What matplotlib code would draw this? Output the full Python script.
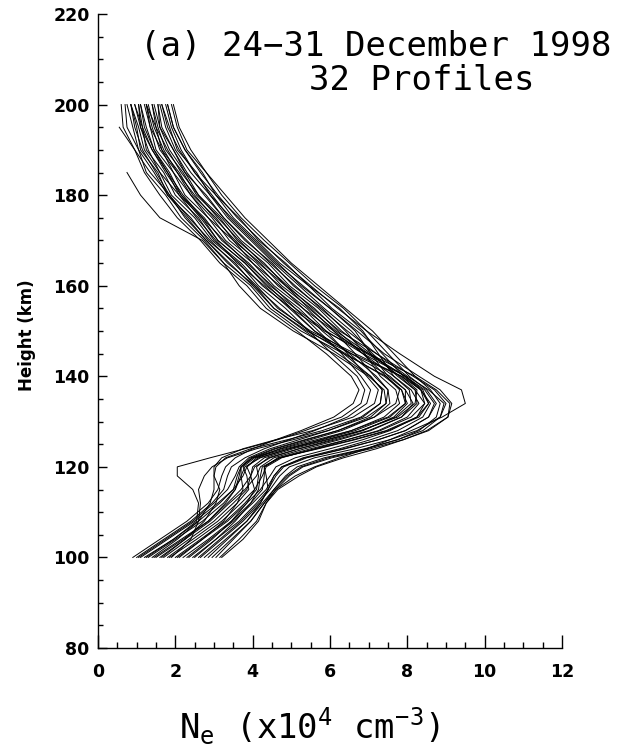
import numpy as np
import matplotlib
matplotlib.use('Agg')
import matplotlib.pyplot as plt
from matplotlib.ticker import MultipleLocator

nan = np.nan

# height grid shared by all profiles (km)
heights_km = [100, 104, 108, 112, 115, 118, 120, 122, 124, 126, 128, 131, 134, 137,
              140, 145, 150, 155, 160, 165, 170, 175, 180, 185, 190, 195, 200]

# electron density, x10^4 cm^-3, one list per profile
ne_01 = [0.90, 1.60, 2.30, 2.85, 3.10, 3.20, 3.30, 3.55, 4.00, 4.60, 5.25, 6.10, 6.60, 6.75,
         6.55, 5.90, 5.15, 4.35, 3.85, 3.15, 2.65, 2.05, 1.60, 1.20, 0.95, 0.65, 0.60]
ne_02 = [1.00, 1.70, 2.40, 2.95, 3.25, 3.35, 3.45, 3.80, 4.30, 4.95, 5.60, 6.45, 6.95, 7.05,
         6.80, 6.30, 5.70, 5.10, 4.35, 3.80, 3.10, 2.70, 2.10, 1.80, 1.40, 1.10, 1.05]
ne_03 = [1.05, 1.75, 2.45, 3.00, 3.35, 3.55, 3.65, 3.90, 4.45, 5.20, 5.95, 6.85, 7.30, 7.35,
         7.05, 6.20, 5.35, 4.55, 4.05, 3.35, 2.80, 2.25, 1.85, 1.35, 0.95, 0.55, nan]
ne_04 = [1.10, 1.80, 2.50, 3.10, 3.50, 3.75, 3.85, 4.10, 4.70, 5.50, 6.30, 7.15, 7.55, 7.50,
         7.15, 6.65, 6.10, 5.50, 4.75, 4.20, 3.50, 3.05, 2.45, 2.10, 1.65, 1.50, 1.25]
ne_05 = [1.20, 1.95, 2.55, 2.60, 2.45, 2.05, 2.05, 2.90, 3.80, 4.65, 5.35, 6.30, 6.80, 6.90,
         6.70, 6.05, 5.45, 4.85, 4.15, 3.65, 2.95, 2.50, 1.90, 1.60, 1.20, 1.05, 0.85]
ne_06 = [1.25, 1.95, 2.60, 3.15, 3.50, 3.60, 3.70, 4.00, 4.60, 5.40, 6.20, 7.05, 7.45, 7.40,
         7.00, 6.10, 5.05, 4.20, 3.65, 3.25, 2.70, 1.60, 1.10, 0.75, nan, nan, nan]
ne_07 = [1.30, 2.00, 2.70, 3.25, 3.55, 3.70, 3.80, 4.20, 4.95, 5.75, 6.55, 7.40, 7.80, 7.70,
         7.30, 6.90, 6.40, 5.80, 5.05, 4.50, 3.80, 3.25, 2.80, 2.25, 1.95, 1.60, 1.55]
ne_08 = [1.40, 2.05, 2.60, 2.90, 3.00, 3.00, 3.05, 3.30, 3.95, 4.90, 5.80, 6.80, 7.30, 7.35,
         7.05, 6.35, 5.60, 5.00, 4.25, 3.70, 3.00, 2.60, 2.00, 1.70, 1.25, 1.15, 0.95]
ne_09 = [1.45, 2.15, 2.85, 3.35, 3.70, 3.95, 4.05, 4.45, 5.20, 6.05, 6.85, 7.65, 8.00, 7.85,
         7.45, 6.85, 6.20, 5.60, 4.85, 4.30, 3.60, 3.15, 2.55, 2.20, 1.75, 1.55, 1.40]
ne_10 = [1.50, 2.20, 2.85, 3.30, 3.55, 3.65, 3.70, 3.95, 4.55, 5.35, 6.20, 7.15, 7.70, 7.80,
         7.45, 6.35, 5.25, 4.45, 3.95, 3.25, 2.75, 2.15, 1.75, 1.25, 1.05, 0.75, 0.70]
ne_11 = [1.60, 2.25, 2.90, 3.40, 3.80, 4.10, 4.20, 4.55, 5.35, 6.25, 7.05, 7.85, 8.15, 7.95,
         7.50, 7.05, 6.65, 6.00, 5.25, 4.65, 4.05, 3.45, 2.90, 2.55, 2.05, 1.85, 1.65]
ne_12 = [1.65, 2.25, 2.75, 3.05, 3.15, 3.00, 3.00, 3.20, 3.75, 4.60, 5.55, 6.60, 7.15, 7.25,
         6.95, 6.45, 5.90, 5.30, 4.55, 4.00, 3.30, 2.85, 2.25, 1.95, 1.50, 1.35, 1.20]
ne_13 = [1.70, 2.35, 3.00, 3.50, 3.85, 3.95, 4.00, 4.30, 5.05, 5.95, 6.80, 7.70, 8.10, 8.05,
         7.65, 6.85, 6.10, 5.30, 4.70, 4.00, 3.50, 2.85, 2.40, 1.95, 1.65, 1.35, 1.25]
ne_14 = [1.80, 2.45, 3.10, 3.60, 3.90, 3.85, 3.75, 4.05, 4.85, 5.80, 6.65, 7.55, 7.95, 7.85,
         7.40, 6.40, 5.45, 4.70, 4.05, 3.55, 2.85, 2.40, 1.80, 1.55, 1.10, 1.00, 0.85]
ne_15 = [1.85, 2.55, 3.20, 3.70, 4.05, 4.25, 4.35, 4.75, 5.60, 6.45, 7.25, 8.00, 8.30, 8.10,
         7.65, 7.25, 6.85, 6.25, 5.45, 4.85, 4.15, 3.65, 3.05, 2.70, 2.25, 1.95, 1.80]
ne_16 = [1.90, 2.40, 2.60, 2.65, 2.60, 2.75, 2.95, 3.35, 4.10, 5.05, 5.95, 6.95, 7.45, 7.50,
         7.20, 6.50, 5.80, 5.20, 4.45, 3.90, 3.20, 2.75, 2.15, 1.85, 1.45, 1.25, 1.10]
ne_17 = [2.00, 2.65, 3.30, 3.80, 4.10, 4.15, 4.10, 4.40, 5.20, 6.15, 7.00, 7.85, 8.25, 8.20,
         7.80, 7.05, 6.30, 5.70, 4.95, 4.40, 3.70, 3.20, 2.60, 2.25, 1.85, 1.60, 1.45]
ne_18 = [2.05, 2.70, 3.35, 3.85, 4.20, 4.45, 4.60, 5.10, 6.00, 6.85, 7.55, 8.25, 8.45, 8.20,
         7.75, 7.10, 6.55, 5.85, 5.20, 4.55, 3.95, 3.35, 2.90, 2.40, 2.00, 1.75, 1.60]
ne_19 = [2.10, 2.70, 3.25, 3.60, 3.75, 3.70, 3.70, 4.00, 4.75, 5.65, 6.55, 7.50, 7.95, 7.95,
         7.55, 6.55, 5.60, 4.95, 4.30, 3.60, 3.05, 2.55, 2.10, 1.60, 1.30, 1.10, 0.95]
ne_20 = [2.20, 2.85, 3.45, 3.95, 4.25, 4.30, 4.30, 4.65, 5.50, 6.45, 7.30, 8.10, 8.45, 8.35,
         7.95, 7.00, 6.15, 5.45, 4.85, 4.15, 3.55, 3.00, 2.50, 2.05, 1.70, 1.45, 1.30]
ne_21 = [2.30, 2.90, 3.50, 4.00, 4.35, 4.55, 4.75, 5.30, 6.25, 7.05, 7.75, 8.40, 8.60, 8.35,
         7.90, 7.35, 6.80, 6.05, 5.45, 4.70, 4.10, 3.50, 3.05, 2.50, 2.15, 1.90, 1.75]
ne_22 = [2.35, 2.95, 3.45, 3.85, 4.05, 3.95, 3.85, 4.15, 4.95, 5.90, 6.80, 7.75, 8.20, 8.25,
         7.85, 6.55, 5.40, 4.55, 4.00, 3.40, 2.80, 2.30, 1.80, 1.45, 1.05, 0.90, 0.75]
ne_23 = [2.45, 3.05, 3.65, 4.10, 4.40, 4.60, 4.80, 5.40, 6.40, 7.25, 7.95, 8.55, 8.75, 8.50,
         8.05, 7.50, 6.95, 6.35, 5.60, 4.95, 4.30, 3.70, 3.20, 2.80, 2.30, 2.05, 1.90]
ne_24 = [2.50, 3.05, 3.55, 3.95, 4.15, 4.20, 4.25, 4.70, 5.65, 6.60, 7.45, 8.25, 8.55, 8.40,
         7.95, 6.85, 5.90, 5.10, 4.50, 3.85, 3.25, 2.70, 2.20, 1.80, 1.45, 1.20, 1.10]
ne_25 = [2.60, 3.15, 3.70, 4.15, 4.45, 4.70, 4.95, 5.60, 6.65, 7.55, 8.25, 8.85, 9.00, 8.70,
         8.15, 7.20, 6.25, 5.55, 4.90, 4.25, 3.65, 3.10, 2.60, 2.15, 1.80, 1.50, 1.40]
ne_26 = [2.65, 3.20, 3.75, 4.20, 4.40, 4.35, 4.30, 4.70, 5.70, 6.65, 7.50, 8.30, 8.55, 8.35,
         7.85, 6.65, 5.50, 4.65, 4.10, 3.50, 2.90, 2.35, 1.85, 1.50, 1.15, 0.95, 0.85]
ne_27 = [2.75, 3.30, 3.85, 4.25, 4.55, 4.85, 5.15, 5.85, 6.90, 7.75, 8.40, 8.85, 8.95, 8.55,
         8.00, 7.20, 6.45, 5.75, 5.10, 4.45, 3.85, 3.25, 2.75, 2.30, 1.95, 1.65, 1.55]
ne_28 = [2.85, 3.35, 3.85, 4.20, 4.40, 4.55, 4.75, 5.35, 6.35, 7.25, 7.95, 8.55, 8.70, 8.45,
         7.95, 6.95, 6.00, 5.40, 4.65, 4.10, 3.40, 2.95, 2.40, 2.05, 1.60, 1.40, 1.25]
ne_29 = [2.95, 3.45, 3.95, 4.30, 4.55, 4.90, 5.25, 5.95, 6.95, 7.75, 8.30, 8.75, 8.85, 8.60,
         8.20, 7.65, 7.10, 6.40, 5.70, 5.00, 4.40, 3.80, 3.30, 2.80, 2.40, 2.10, 1.95]
ne_30 = [3.05, 3.50, 3.95, 4.30, 4.60, 4.95, 5.30, 6.05, 7.05, 7.90, 8.55, 9.05, 9.10, 8.75,
         8.20, 7.00, 5.85, 5.00, 4.40, 3.80, 3.10, 2.65, 2.15, 1.75, 1.40, 1.15, 1.05]
ne_31 = [3.15, 3.65, 4.10, 4.35, 4.65, 5.20, 5.65, 6.35, 7.20, 7.90, 8.50, 9.05, 9.15, 8.85,
         8.30, 7.40, 6.70, 6.00, 5.30, 4.60, 4.00, 3.40, 2.95, 2.50, 2.10, 1.80, 1.65]
ne_32 = [3.20, 3.75, 4.15, 4.35, 4.60, 5.10, 5.60, 6.25, 6.95, 7.55, 8.10, 8.90, 9.50, 9.40,
         8.70, 7.80, 6.95, 6.20, 5.50, 4.80, 4.20, 3.60, 3.10, 2.65, 2.25, 1.95, 1.80]

profiles = [ne_01, ne_02, ne_03, ne_04, ne_05, ne_06, ne_07, ne_08,
            ne_09, ne_10, ne_11, ne_12, ne_13, ne_14, ne_15, ne_16,
            ne_17, ne_18, ne_19, ne_20, ne_21, ne_22, ne_23, ne_24,
            ne_25, ne_26, ne_27, ne_28, ne_29, ne_30, ne_31, ne_32]

x_ticks = [0, 2, 4, 6, 8, 10, 12]
y_ticks = [80, 100, 120, 140, 160, 180, 200, 220]

fig = plt.figure(figsize=(6.2, 7.55), dpi=100)
ax = fig.add_axes([98 / 620, 107 / 755, 464 / 620, 634 / 755])

for ne in profiles:
    ax.plot(ne, heights_km, color='black', lw=0.7)

ax.set_xlim(0, 12)
ax.set_ylim(80, 220)
ax.set_xticks(x_ticks)
ax.set_yticks(y_ticks)
ax.xaxis.set_minor_locator(MultipleLocator(0.5))
ax.yaxis.set_minor_locator(MultipleLocator(5))

for side in ['top', 'right']:
    ax.spines[side].set_visible(False)
for side in ['left', 'bottom']:
    ax.spines[side].set_linewidth(1.0)

ax.tick_params(axis='x', which='major', direction='in', length=9.1, width=1.0, pad=11)
ax.tick_params(axis='x', which='minor', direction='in', length=4.6, width=1.0)
ax.tick_params(axis='y', which='major', direction='in', length=6.7, width=1.0, pad=6)
ax.tick_params(axis='y', which='minor', direction='in', length=3.3, width=1.0)
plt.setp(ax.get_xticklabels() + ax.get_yticklabels(), fontsize=12.5, fontweight='bold')

mono = 'DejaVu Sans Mono'
fig.text(27 / 620, 1 - 335 / 755, 'Height (km)', rotation=90, ha='center', va='center',
         fontsize=12, fontweight='bold')
fig.text(309 / 620, 1 - 726 / 755,
         r'N$_\mathregular{e}$ (x10$^\mathregular{4}$ cm$^\mathregular{-3}$)',
         ha='center', va='center', fontsize=24.5, family=mono)

fig.text(376 / 620, 1 - 46 / 755, '(a) 24\u221231 December 1998', ha='center', va='center',
         fontsize=24.5, family=mono)
fig.text(422 / 620, 1 - 80 / 755, '32 Profiles', ha='center', va='center',
         fontsize=24.5, family=mono)

plt.savefig('out.png', dpi=100)
